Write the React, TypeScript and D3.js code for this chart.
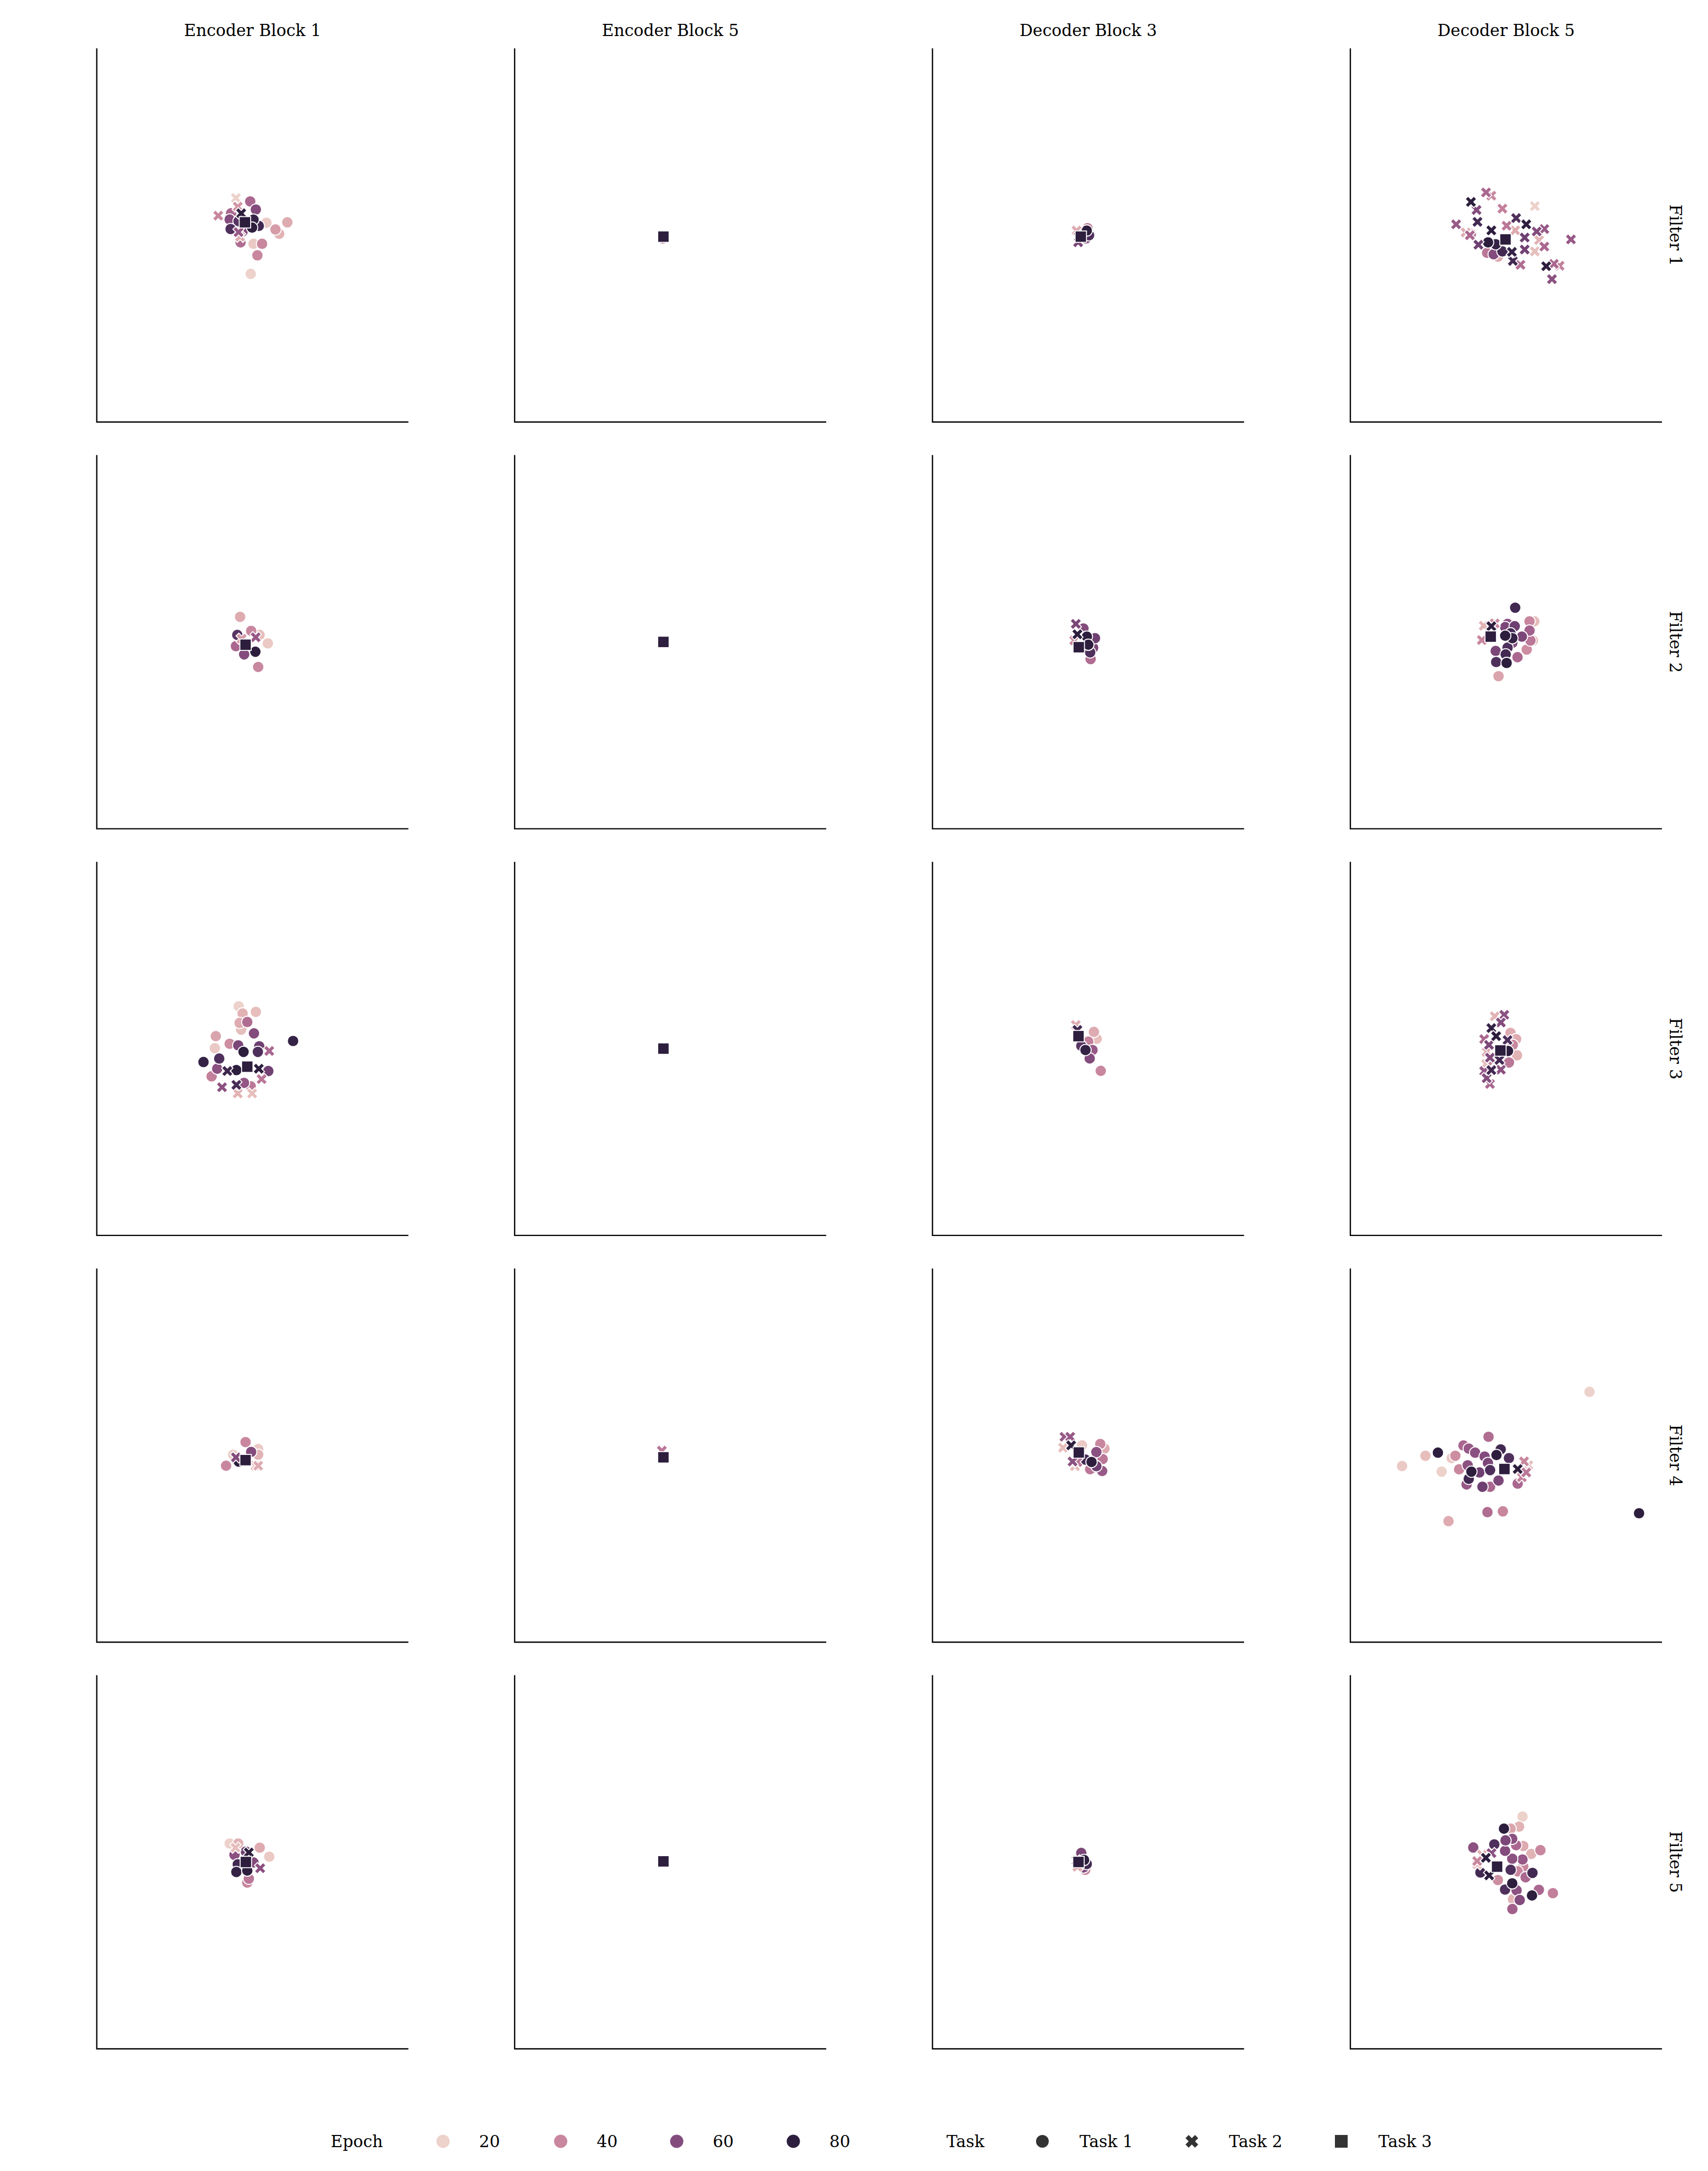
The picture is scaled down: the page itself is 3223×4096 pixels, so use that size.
import React from 'react';
import * as d3 from 'd3';

// x, y, epoch, task
type Pt = [number, number, number, number];

const blocks = ['Encoder Block 1', 'Encoder Block 5', 'Decoder Block 3', 'Decoder Block 5'];
const filters = ['Filter 1', 'Filter 2', 'Filter 3', 'Filter 4', 'Filter 5'];
const epochTicks = [20, 40, 60, 80];
const taskNames = ['Task 1', 'Task 2', 'Task 3'];

const enc1Filter1: Pt[] = [
  [-0.15, 2.17, 50, 1], [0.21, 1.65, 60, 1], [-1.38, 1.41, 50, 1], [-1.47, 1.01, 60, 1],
  [-1.41, 0.4, 72, 1], [-0.03, 0.49, 80, 1], [0.06, 1.0, 78, 1], [-0.64, 0.24, 60, 1],
  [0.89, 0.8, 22, 1], [2.23, 0.83, 30, 1], [1.71, 0.09, 28, 1], [1.47, 0.37, 34, 1],
  [-0.77, -0.46, 48, 1], [0.06, -0.55, 22, 1], [0.61, -0.55, 40, 1], [0.31, -1.29, 40, 1],
  [-0.12, -2.48, 20, 1], [-0.9, 0.9, 70, 1], [0.4, 0.6, 75, 1],
  [-1.07, 2.39, 20, 2], [-2.2, 1.26, 40, 2], [-0.73, 1.41, 80, 2], [-0.95, 1.84, 36, 2],
  [-0.9, 0.2, 55, 2], [-0.8, -0.1, 30, 2],
  [-0.49, 0.83, 80, 3],
];
const enc5Filter1: Pt[] = [[-0.5, -0.2, 45, 1], [-0.47, -0.1, 70, 2], [-0.45, -0.09, 80, 3]];
const dec3Filter1: Pt[] = [
  [-0.05, 0.45, 45, 1], [-0.15, -0.2, 60, 1], [0.05, 0.0, 72, 1], [-0.1, 0.3, 80, 1],
  [-0.75, 0.3, 30, 2], [-0.65, -0.45, 62, 2], [-0.6, -0.1, 80, 2],
  [-0.48, -0.09, 80, 3],
];
const dec5Filter1: Pt[] = [
  [-1.16, -0.46, 80, 1], [-0.67, -0.58, 78, 1], [-0.24, -1.04, 75, 1], [-0.8, -1.22, 60, 1],
  [-1.22, -1.13, 45, 1], [-0.52, -1.38, 30, 1], [-2.26, 0.09, 45, 1],
  [-1.29, 2.75, 50, 2], [-0.95, 2.54, 40, 2], [-2.26, 2.14, 80, 2], [-1.9, 1.62, 60, 2],
  [-0.24, 1.71, 42, 2], [1.84, 1.87, 20, 2], [-1.84, 0.86, 75, 2], [-3.21, 0.7, 55, 2],
  [-0.95, 0.31, 80, 2], [0.64, 1.1, 72, 2], [1.29, 0.7, 80, 2], [1.96, 0.24, 60, 2],
  [2.45, 0.4, 55, 2], [-2.33, 0.0, 50, 2], [1.19, -0.15, 65, 2], [2.11, -0.31, 28, 2],
  [4.16, -0.27, 55, 2], [-1.78, -0.61, 65, 2], [2.45, -0.73, 50, 2], [0.37, -1.07, 78, 2],
  [1.19, -0.92, 64, 2], [1.84, -1.04, 25, 2], [0.43, -1.65, 75, 2], [0.92, -1.9, 48, 2],
  [2.57, -1.99, 82, 2], [3.06, -1.84, 50, 2], [3.43, -1.96, 42, 2], [2.94, -2.82, 58, 2],
  [0.58, 0.31, 30, 2], [0.03, 0.61, 45, 2], [-2.6, 0.18, 30, 2],
  [-0.04, -0.27, 80, 3],
];

const enc1Filter2: Pt[] = [
  [-0.8, 1.61, 30, 1], [0.98, -0.09, 22, 1], [0.36, -1.61, 40, 1], [-0.98, 0.45, 70, 1],
  [0.18, -0.63, 80, 1], [-0.54, -0.8, 60, 1], [-1.07, -0.27, 50, 1], [-0.09, 0.71, 40, 1],
  [0.45, 0.45, 25, 1],
  [-0.7, 0.2, 35, 2], [0.2, 0.3, 55, 2],
  [-0.45, -0.18, 80, 3],
];
const enc5Filter2: Pt[] = [[-0.45, 0.0, 50, 1], [-0.45, 0.0, 70, 2], [-0.45, 0.0, 80, 3]];
const dec3Filter2: Pt[] = [
  [-0.31, 0.86, 60, 1], [0.43, 0.24, 65, 1], [-0.09, 0.34, 80, 1], [0.31, -0.37, 62, 1],
  [0.15, -1.1, 48, 1], [0.12, -0.67, 72, 1], [0.0, -0.18, 80, 1],
  [-0.8, 1.16, 62, 2], [-0.7, 0.49, 80, 2], [-0.9, 0.1, 40, 2],
  [-0.61, -0.34, 80, 3],
];
const dec5Filter2: Pt[] = [
  [0.58, 2.2, 75, 1], [1.81, 1.32, 25, 1], [1.5, 1.32, 40, 1], [0.09, 1.16, 58, 1],
  [0.55, 1.01, 65, 1], [-0.06, 0.95, 62, 1], [1.5, 0.73, 52, 1], [1.71, 0.09, 28, 1],
  [1.56, 0.09, 45, 1], [0.28, 0.55, 75, 1], [-0.06, 0.4, 80, 1], [1.01, 0.34, 62, 1],
  [0.4, 0.24, 78, 1], [0.4, -0.06, 60, 1], [1.32, -0.49, 38, 1], [0.09, -0.37, 72, 1],
  [-0.67, -0.58, 62, 1], [-0.03, -0.8, 75, 1], [0.73, -0.98, 50, 1], [-0.64, -1.29, 72, 1],
  [0.03, -1.35, 80, 1], [-0.49, -2.2, 32, 1],
  [-1.44, 1.04, 28, 2], [-0.73, 1.19, 40, 2], [-1.56, 0.12, 40, 2], [-0.95, 1.01, 80, 2],
  [-0.99, 0.34, 80, 3],
];

const enc1Filter3: Pt[] = [
  [-0.89, 2.72, 20, 1], [-0.64, 2.26, 28, 1], [0.21, 2.36, 25, 1], [-0.83, 1.65, 30, 1],
  [-0.34, 1.71, 48, 1], [-0.73, 1.22, 25, 1], [0.09, 0.98, 60, 1], [-2.36, 0.8, 32, 1],
  [-2.42, 0.03, 22, 1], [-1.47, 0.31, 38, 1], [-0.92, 0.21, 62, 1], [0.43, 0.15, 65, 1],
  [2.6, 0.49, 78, 1], [-3.15, -0.86, 78, 1], [-2.14, -0.64, 72, 1], [1.01, -1.44, 64, 1],
  [-2.63, -1.78, 42, 1], [-2.27, -1.29, 58, 1], [-1.04, -1.38, 82, 1], [-0.55, -2.2, 56, 1],
  [-0.12, -2.42, 45, 1], [-0.58, -0.21, 80, 1], [0.34, -0.21, 72, 1],
  [-0.95, -2.88, 28, 2], [-0.03, -2.88, 25, 2], [0.58, -1.96, 45, 2], [-1.96, -2.48, 58, 2],
  [1.07, -0.15, 50, 2], [-1.04, -2.33, 74, 2], [-1.62, -1.44, 76, 2], [0.4, -1.29, 80, 2],
  [-0.34, -1.16, 80, 3],
];
const enc5Filter3: Pt[] = [[-0.45, 0.0, 40, 1], [-0.45, -0.05, 60, 2], [-0.45, 0.0, 80, 3]];
const dec3Filter3: Pt[] = [
  [0.36, 1.07, 30, 1], [0.54, 0.63, 25, 1], [0.0, 0.45, 42, 1], [0.27, -0.09, 55, 1],
  [0.09, -0.63, 60, 1], [0.8, -1.43, 40, 1], [-0.45, 0.18, 70, 1], [-0.18, -0.09, 78, 1],
  [-0.8, 1.52, 30, 2], [-0.7, 1.2, 75, 2],
  [-0.63, 0.8, 80, 3],
];
const dec5Filter3: Pt[] = [
  [0.28, 1.01, 30, 1], [0.64, 0.61, 30, 1], [0.7, -0.43, 28, 1], [0.43, 0.24, 40, 1],
  [0.18, -0.89, 45, 1], [0.12, -0.15, 80, 1],
  [-0.73, 2.08, 28, 2], [-1.25, -0.21, 30, 2], [-1.29, -0.98, 25, 2], [-1.41, 0.61, 50, 2],
  [-1.04, -2.27, 50, 2], [-0.83, -0.77, 42, 2], [-0.12, 2.17, 58, 2], [-0.34, 1.68, 60, 2],
  [-1.1, 0.24, 62, 2], [-1.04, -0.58, 60, 2], [-0.34, -1.35, 58, 2], [-1.41, -1.44, 55, 2],
  [-1.25, -1.9, 60, 2], [0.09, 0.55, 72, 2], [-0.43, -0.73, 75, 2], [-0.95, -1.38, 75, 2],
  [-0.95, 1.32, 78, 2], [-0.64, 0.8, 80, 2],
  [-0.37, -0.12, 80, 3],
];

const enc1Filter4: Pt[] = [
  [-0.45, 0.85, 40, 1], [0.36, 0.4, 22, 1], [-1.7, -0.67, 40, 1], [-1.25, 0.04, 20, 1],
  [0.36, 0.04, 28, 1], [-0.09, 0.22, 60, 1], [-0.89, -0.4, 80, 1],
  [0.18, -0.67, 25, 2], [0.36, -0.67, 30, 2], [-1.07, -0.13, 60, 2],
  [-0.45, -0.31, 80, 3],
];
const enc5Filter4: Pt[] = [[-0.55, 0.3, 45, 2], [-0.45, -0.1, 60, 1], [-0.45, -0.13, 80, 3]];
const dec3Filter4: Pt[] = [
  [0.77, 0.73, 40, 1], [1.04, 0.43, 30, 1], [-0.4, 0.64, 22, 1], [0.52, 0.21, 58, 1],
  [0.92, -0.24, 45, 1], [0.89, -1.01, 55, 1], [0.12, -0.89, 45, 1], [0.52, -0.7, 65, 1],
  [-0.18, -0.28, 75, 1], [0.21, -0.43, 80, 1],
  [-1.62, 0.49, 25, 2], [-0.86, -0.7, 25, 2], [-0.7, -0.43, 45, 2], [-1.53, 1.19, 55, 2],
  [-1.16, 1.19, 55, 2], [-1.01, -0.4, 58, 2], [-1.1, 0.64, 80, 2],
  [-0.61, 0.18, 80, 3],
];
const dec5Filter4: Pt[] = [
  [5.35, 4.08, 20, 1], [-6.68, -0.69, 22, 1], [-4.14, -1.05, 20, 1], [-5.18, -0.03, 25, 1],
  [-3.5, -0.18, 22, 1], [-3.7, -4.23, 30, 1], [-3.26, -0.03, 38, 1], [-3.02, -0.9, 40, 1],
  [-0.21, -3.6, 40, 1], [-1.2, -3.65, 48, 1], [-1.13, 1.19, 48, 1], [-2.74, 0.63, 50, 1],
  [-1.03, -2.02, 50, 1], [0.74, -1.82, 50, 1], [-2.4, 0.43, 55, 1], [-2.54, -1.87, 55, 1],
  [-1.99, 0.17, 58, 1], [-2.47, -0.64, 58, 1], [-1.38, -0.08, 60, 1], [-1.17, -0.49, 62, 1],
  [-0.49, -1.62, 62, 1], [-1.72, -1.1, 65, 1], [-1.52, -2.02, 65, 1], [0.18, -0.18, 72, 1],
  [-1.03, -0.95, 72, 1], [-0.35, 0.38, 75, 1], [-2.4, -1.51, 75, 1], [-4.38, 0.17, 80, 1],
  [-0.62, 0.02, 80, 1], [-2.23, -1.05, 80, 1], [8.53, -3.72, 80, 1],
  [1.42, -0.64, 25, 2], [1.15, -0.39, 40, 2], [1.01, -1.41, 42, 2], [1.29, -1.1, 45, 2],
  [0.74, -0.88, 80, 2],
  [-0.11, -0.88, 80, 3],
];

const enc1Filter5: Pt[] = [
  [-1.47, 1.19, 20, 1], [-0.92, 1.19, 28, 1], [0.46, 0.92, 30, 1], [1.07, 0.34, 22, 1],
  [-0.34, -1.32, 40, 1], [-0.24, -1.07, 45, 1], [-1.16, 0.46, 58, 1], [0.06, -0.03, 60, 1],
  [-0.43, 0.67, 65, 1], [-0.95, -0.15, 75, 1], [-1.04, -0.64, 78, 1], [-0.34, -0.55, 80, 1],
  [-1.1, 0.92, 25, 2], [0.49, -0.4, 58, 2], [-0.24, 0.61, 80, 2],
  [-0.43, 0.0, 80, 3],
];
const enc5Filter5: Pt[] = [[-0.45, 0.04, 50, 1], [-0.45, 0.04, 70, 2], [-0.45, 0.04, 80, 3]];
const dec3Filter5: Pt[] = [
  [-0.2, -0.5, 40, 1], [-0.3, -0.35, 60, 1], [-0.45, 0.58, 62, 1], [-0.1, -0.13, 75, 1],
  [-0.27, 0.13, 80, 1],
  [-0.7, -0.3, 30, 2], [-0.75, 0.1, 55, 2],
  [-0.63, 0.0, 80, 3],
];
const dec5Filter5: Pt[] = [
  [1.05, 2.92, 20, 1], [0.83, 2.27, 28, 1], [0.29, 2.14, 32, 1], [1.1, 1.03, 30, 1],
  [1.61, 0.52, 28, 1], [0.44, -2.39, 28, 1], [2.2, 0.76, 40, 1], [1.1, -0.3, 40, 1],
  [0.74, -0.6, 40, 1], [-0.53, -1.16, 38, 1], [3.0, -2.0, 42, 1], [0.64, 1.08, 50, 1],
  [1.25, -0.98, 50, 1], [2.1, -1.79, 50, 1], [0.4, -3.02, 52, 1], [1.05, 0.16, 55, 1],
  [-2.11, 0.93, 58, 1], [0.39, 1.49, 58, 1], [0.39, 0.21, 58, 1], [0.67, -1.82, 58, 1],
  [-0.07, 0.72, 60, 1], [0.87, -2.44, 60, 1], [-0.04, 1.39, 62, 1], [-0.76, 1.13, 72, 1],
  [0.29, -0.5, 72, 1], [-0.07, -1.77, 72, 1], [-1.65, -0.67, 75, 1], [1.69, -0.7, 75, 1],
  [-0.14, 2.14, 80, 1], [0.39, -1.37, 82, 1], [1.66, -2.15, 82, 1],
  [-1.86, -0.15, 25, 2], [-1.55, 0.47, 28, 2], [-1.86, 0.06, 40, 2], [-0.94, 0.57, 58, 2],
  [-1.3, 0.27, 80, 2], [-1.09, -0.86, 80, 2],
  [-0.58, -0.3, 80, 3],
];

const grid: Pt[][][] = [
  [enc1Filter1, enc5Filter1, dec3Filter1, dec5Filter1],
  [enc1Filter2, enc5Filter2, dec3Filter2, dec5Filter2],
  [enc1Filter3, enc5Filter3, dec3Filter3, dec5Filter3],
  [enc1Filter4, enc5Filter4, dec3Filter4, dec5Filter4],
  [enc1Filter5, enc5Filter5, dec3Filter5, dec5Filter5],
];

// seaborn's default cubehelix map for a numeric hue
const helixPos = d3.scaleLinear().domain([20, 80]).range([0.85, 0.15]).clamp(true);
function epochColor(epoch: number) {
  const x = helixPos(epoch);
  const a = 0.8 * x * (1 - x) / 2;
  const phi = 2 * Math.PI * (0.4 * x);
  const ch = (p0: number, p1: number) =>
    255 * Math.max(0, Math.min(1, x + a * (p0 * Math.cos(phi) + p1 * Math.sin(phi))));
  return d3.rgb(ch(-0.14861, 1.78277), ch(-0.29227, -0.90649), ch(1.97294, 0)).formatHex();
}

const xPts = [[0.25, 0], [0.5, 0.25], [0.75, 0], [1, 0.25], [0.75, 0.5], [1, 0.75],
  [0.75, 1], [0.5, 0.75], [0.25, 1], [0, 0.75], [0.25, 0.5], [0, 0.25]];
const xPath = (s: number) =>
  'M' + xPts.map(p => `${(p[0] - 0.5) * s},${(p[1] - 0.5) * s}`).join('L') + 'Z';

const W = 3223;
const H = 4096;
const FONT = "'DejaVu Serif', serif";
const INK = '#000';
const panelW = 588;
const panelH = 705;
const colX = (c: number) => 182.6 + 788.5 * c;
const rowY = (r: number) => 91.3 + 767.3 * r;
const MS = 21.5;

function Marker({ task, x, y, fill, size, stroke }: { task: number; x: number; y: number; fill: string; size: number; stroke?: string }) {
  const sw = stroke ? 1.8 : 0;
  if (task === 1) return <circle cx={x} cy={y} r={size / 2} fill={fill} stroke={stroke} strokeWidth={sw} />;
  if (task === 2) return <path d={xPath(size)} transform={`translate(${x},${y})`} fill={fill} stroke={stroke} strokeWidth={sw} />;
  return <rect x={x - size / 2} y={y - size / 2} width={size} height={size} fill={fill} stroke={stroke} strokeWidth={sw} />;
}

function Panel({ data, r, c }: { data: Pt[]; r: number; c: number }) {
  const left = colX(c);
  const top = rowY(r);
  const x = d3.scaleLinear().domain([-10, 10]).range([left, left + panelW]);
  const y = d3.scaleLinear().domain([-12, 12]).range([top + panelH, top]);
  const ordered = [...data].sort((a, b) => a[3] - b[3] || a[2] - b[2]);
  return (
    <g>
      <path d={`M${left},${top}V${top + panelH}H${left + panelW}`} fill="none" stroke={INK} strokeWidth={2.4} />
      {ordered.map((d, i) => (
        <Marker key={i} task={d[3]} x={x(d[0])} y={y(d[1])} fill={epochColor(d[2])} size={MS} stroke="#fff" />
      ))}
    </g>
  );
}

export default function App() {
  const legendY = 4040;
  const epochX = [836, 1058, 1277, 1497];
  const taskX = [1967, 2249, 2531];
  return (
    <svg width={W} height={H} style={{ position: 'absolute', left: 0, top: 0, background: '#fff' }}
      fontFamily={FONT} fill={INK}>
      <rect width={W} height={H} fill="#fff" />
      {blocks.map((b, c) => (
        <text key={b} x={colX(c) + panelW / 2} y={68} textAnchor="middle" fontSize={31} fill={INK}>{b}</text>
      ))}
      {filters.map((f, r) => (
        <text key={f} transform={`translate(3162,${rowY(r) + panelH / 2}) rotate(90)`} textAnchor="middle"
          dominantBaseline="central" fontSize={31} fill={INK}>{f}</text>
      ))}
      {grid.map((row, r) => row.map((data, c) => <Panel key={`${r}-${c}`} data={data} r={r} c={c} />))}
      <g fontSize={31} fill={INK}>
        <text x={624} y={legendY + 11}>Epoch</text>
        {epochTicks.map((e, i) => (
          <g key={e}>
            <circle cx={epochX[i]} cy={legendY} r={12.5} fill={epochColor(e)} />
            <text x={epochX[i] + 68} y={legendY + 11}>{e}</text>
          </g>
        ))}
        <text x={1786} y={legendY + 11}>Task</text>
        {taskNames.map((t, i) => (
          <g key={t}>
            <Marker task={i + 1} x={taskX[i]} y={legendY} fill="#333333" size={24} />
            <text x={taskX[i] + 70} y={legendY + 11}>{t}</text>
          </g>
        ))}
      </g>
    </svg>
  );
}
